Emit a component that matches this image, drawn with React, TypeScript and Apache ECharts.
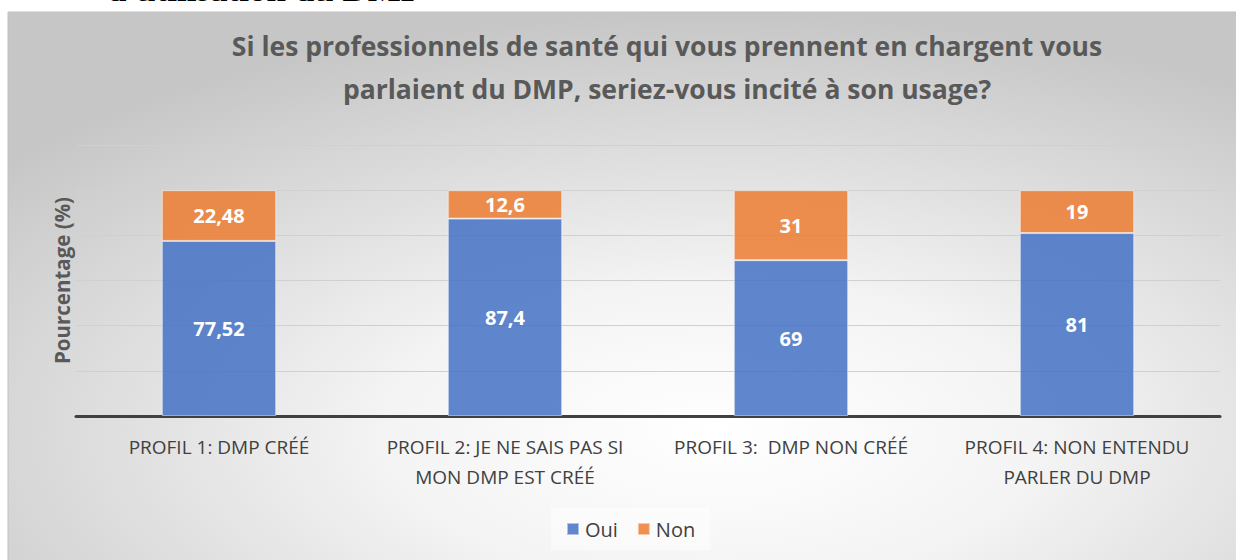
import React, { useEffect, useRef } from "react";
import * as echarts from "echarts";

const categories = [
  "PROFIL 1: DMP CRÉÉ",
  "PROFIL 2: JE NE SAIS PAS SI\nMON DMP EST CRÉÉ",
  "PROFIL 3:  DMP NON CRÉÉ",
  "PROFIL 4: NON ENTENDU\nPARLER DU DMP",
];
const ouiValues = [77.52, 87.4, 69, 81];
const nonValues = [22.48, 12.6, 31, 19];
const titleText =
  "Si les professionnels de santé qui vous prennent en chargent vous\nparlaient du DMP, seriez-vous incité à son usage?";
const headingText = "d'utilisation du DMP";
const yAxisName = "Pourcentage (%)";

const fmt = (v: number) => String(v).replace(".", ",");

export default function App() {
  const ref = useRef<HTMLDivElement>(null);
  useEffect(() => {
    if (!ref.current) return;
    const chart = echarts.init(ref.current, undefined, { renderer: "svg" });
    const font = "'Open Sans', Lato, sans-serif";
    chart.setOption({
      animation: false,
      backgroundColor: "#ffffff",
      textStyle: { fontFamily: font },
      graphic: [
        {
          type: "rect",
          z: -10,
          silent: true,
          shape: { x: 8, y: 12, width: 1240, height: 560 },
          style: {
            fill: new echarts.graphic.RadialGradient(0.57, 0.75, 0.75, [
              { offset: 0, color: "#ffffff" },
              { offset: 0.35, color: "#f4f4f4" },
              { offset: 1, color: "#c6c6c6" },
            ]),
            stroke: "#c0c0c0",
            lineWidth: 1,
          },
        },
        {
          type: "text",
          x: 107,
          y: -10.5,
          z: -20,
          silent: true,
          style: {
            text: headingText,
            font: "bold 35px 'Liberation Serif', 'Times New Roman', serif",
            fill: "#000000",
            verticalAlign: "middle",
          },
        },
      ],
      title: {
        text: titleText,
        left: 662,
        textAlign: "center",
        top: 19,
        textStyle: {
          fontFamily: font,
          fontWeight: "bold",
          fontSize: 26.5,
          lineHeight: 43,
          color: "#595959",
        },
      },
      legend: {
        left: 551,
        top: 508,
        itemWidth: 12,
        itemHeight: 12,
        itemGap: 19,
        padding: [11, 15, 11, 15],
        backgroundColor: "rgba(255,255,255,0.45)",
        icon: "rect",
        textStyle: { fontSize: 20, color: "#404040", fontFamily: font, padding: [0, 0, 0, 1] },
        data: ["Oui", "Non"],
      },
      grid: { left: 76, right: 16, top: 145, bottom: 144 },
      xAxis: {
        type: "category",
        data: categories,
        axisLine: { lineStyle: { color: "#404040", width: 3 } },
        axisTick: { show: false },
        axisLabel: {
          color: "#404040",
          fontSize: 19,
          lineHeight: 30,
          margin: 16,
          interval: 0,
          fontFamily: font,
        },
      },
      yAxis: {
        type: "value",
        min: 0,
        max: 120,
        interval: 20,
        name: yAxisName,
        nameLocation: "middle",
        nameGap: 4,
        nameTextStyle: { fontSize: 20.5, fontWeight: "bold", color: "#595959", fontFamily: font },
        axisLabel: { show: false },
        axisLine: { show: false },
        axisTick: { show: false },
        splitLine: { lineStyle: { color: "#d0d0d0", width: 1 } },
      },
      series: [
        {
          name: "Oui",
          type: "bar",
          stack: "total",
          barWidth: "40%",
          data: ouiValues,
          itemStyle: {
            color: "rgba(68,114,196,0.85)",
            borderColor: "rgba(255,255,255,0.5)",
            borderWidth: 1,
          },
          label: {
            show: true,
            position: "inside",
            color: "#ffffff",
            fontWeight: "bold",
            fontSize: 20,
            fontFamily: font,
            formatter: (p: any) => fmt(p.value),
          },
        },
        {
          name: "Non",
          type: "bar",
          stack: "total",
          barWidth: "40%",
          data: nonValues,
          itemStyle: {
            color: "rgba(237,125,49,0.85)",
            borderColor: "rgba(255,255,255,0.5)",
            borderWidth: 1,
          },
          label: {
            show: true,
            position: "inside",
            color: "#ffffff",
            fontWeight: "bold",
            fontSize: 20,
            fontFamily: font,
            formatter: (p: any) => fmt(p.value),
          },
        },
      ],
    });
    return () => chart.dispose();
  }, []);
  return (
    <div
      ref={ref}
      style={{ position: "absolute", left: 0, top: 0, width: 1236, height: 560 }}
    />
  );
}
